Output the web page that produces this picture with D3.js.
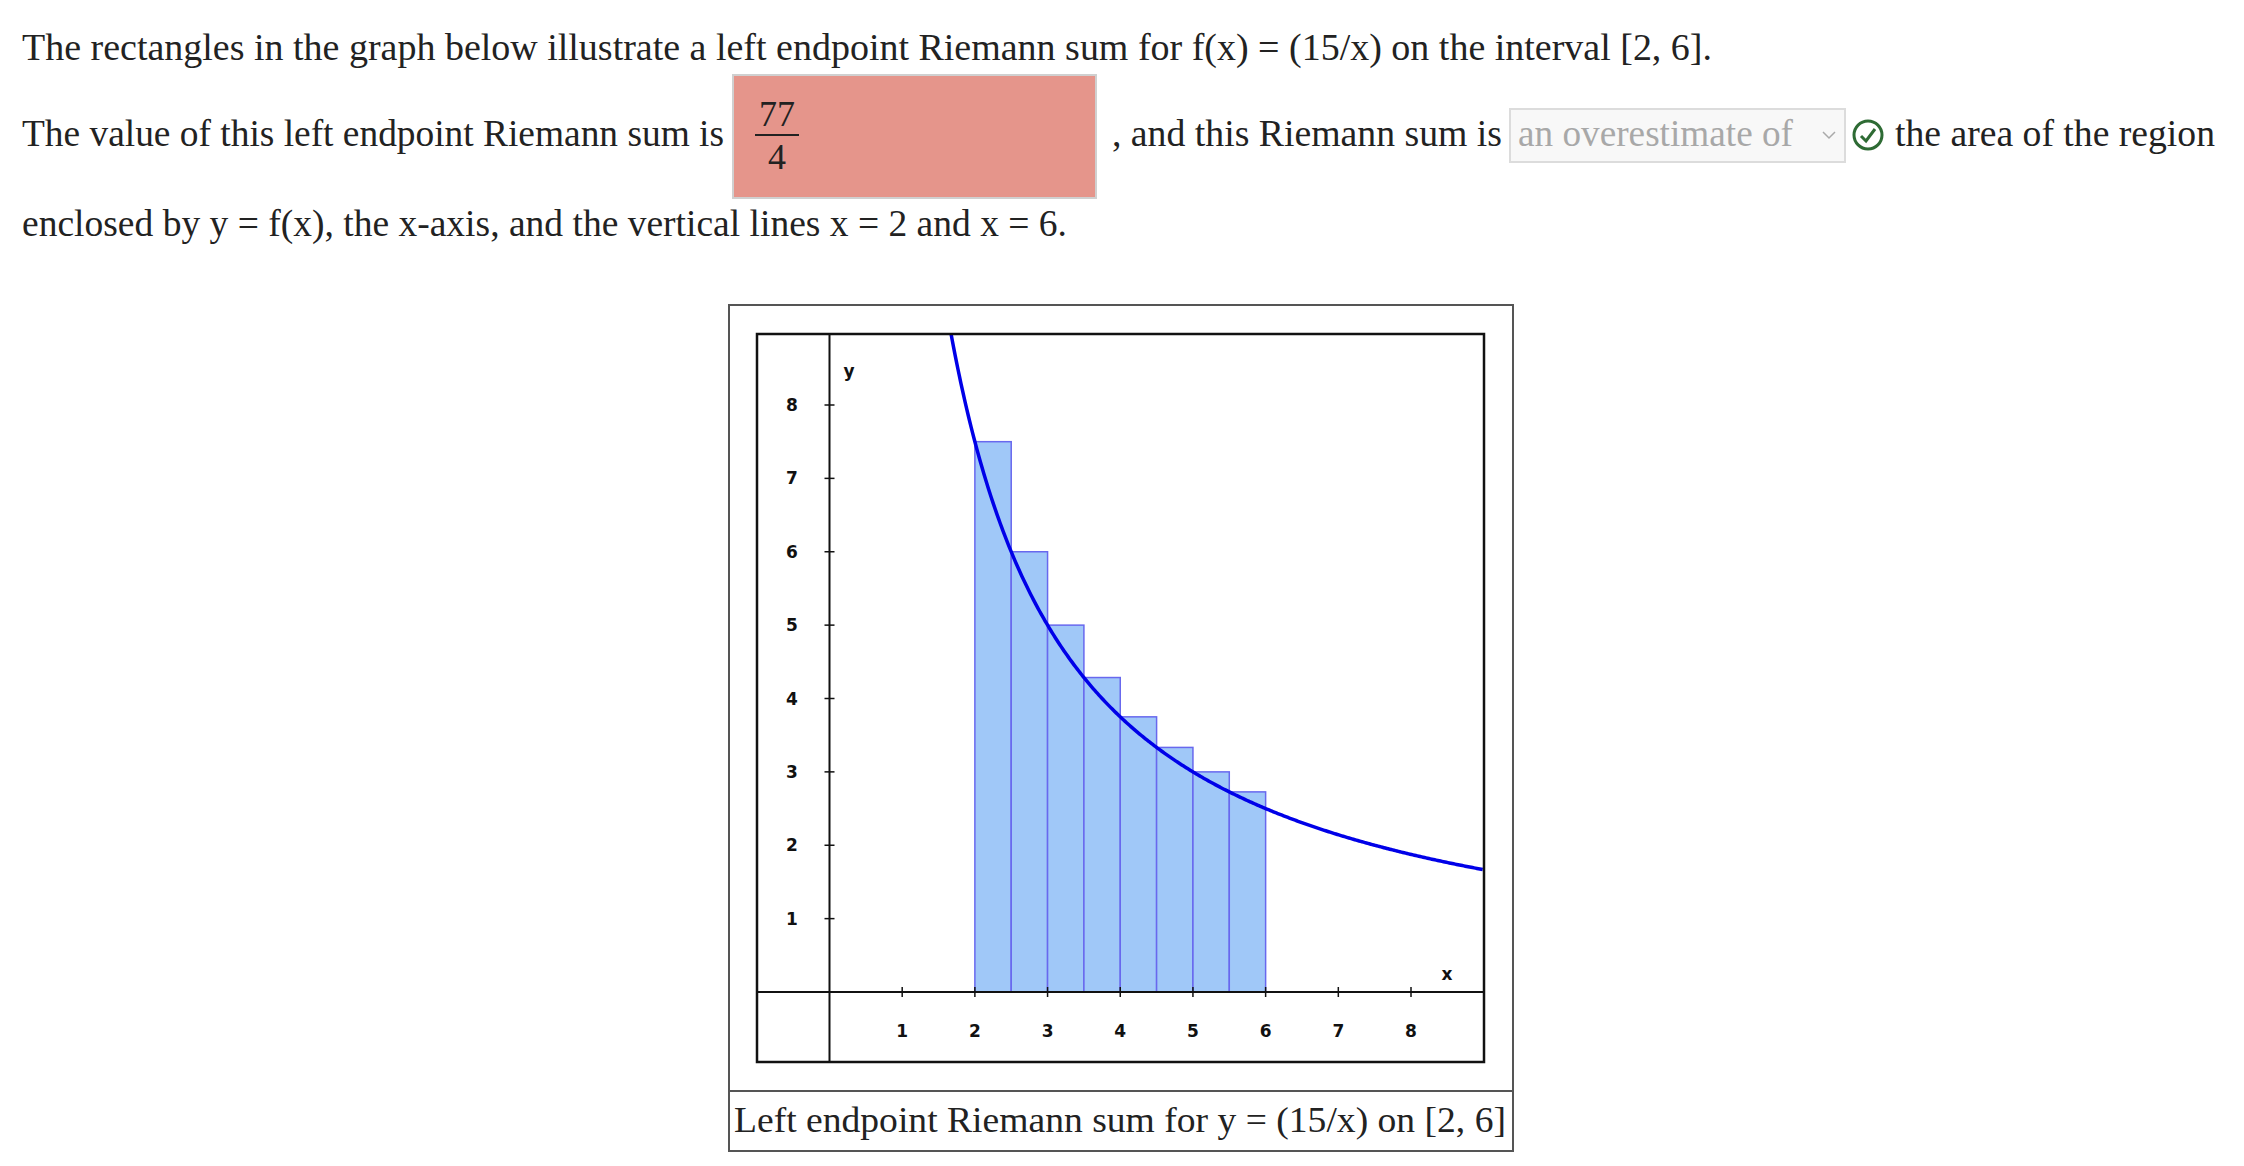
<!DOCTYPE html>
<html><head><meta charset="utf-8">
<script src="https://cdn.jsdelivr.net/npm/d3@7"></script>
<style>body{margin:0;background:#fff}</style>
</head><body>
<svg width="2244" height="1166"></svg>
<script>
const svg = d3.select('svg');

// data
const a = 2, b = 6, n = 8;
const leftEnds = [2, 2.5, 3, 3.5, 4, 4.5, 5, 5.5];
const heights = [7.5, 6, 5, 4.2857, 3.75, 3.3333, 3, 2.7273];
const xTicks = [1, 2, 3, 4, 5, 6, 7, 8];
const yTicks = [1, 2, 3, 4, 5, 6, 7, 8];
const f = x => 15 / x;
const curveXs = d3.range(15 / 9, 9.001, 0.02);

const serif = '"Liberation Serif", "DejaVu Serif", serif';

// question text
function txt(x, y, s, len, opts = {}) {
  return svg.append('text').attr('x', x).attr('y', y)
    .attr('font-family', serif).attr('font-size', opts.size || 37)
    .attr('fill', opts.fill || '#222')
    .attr('textLength', len).attr('lengthAdjust', 'spacingAndGlyphs')
    .text(s);
}
txt(22, 60, 'The rectangles in the graph below illustrate a left endpoint Riemann sum for f(x) = (15/x) on the interval [2, 6].', 1690);
txt(22, 146, 'The value of this left endpoint Riemann sum is', 702);

svg.append('rect').attr('x', 733).attr('y', 75).attr('width', 363).attr('height', 123)
  .attr('fill', '#e5958b').attr('stroke', '#d0d0d0').attr('stroke-width', 2);
svg.append('text').attr('x', 777).attr('y', 126).attr('text-anchor', 'middle')
  .attr('font-family', serif).attr('font-size', 36).attr('fill', '#222').text('77');
svg.append('line').attr('x1', 755).attr('x2', 799).attr('y1', 135).attr('y2', 135)
  .attr('stroke', '#222').attr('stroke-width', 2);
svg.append('text').attr('x', 777).attr('y', 169).attr('text-anchor', 'middle')
  .attr('font-family', serif).attr('font-size', 36).attr('fill', '#222').text('4');

txt(1112, 146, ', and this Riemann sum is', 390);
svg.append('rect').attr('x', 1510).attr('y', 109).attr('width', 335).attr('height', 53)
  .attr('fill', '#f8f8f8').attr('stroke', '#dcdcdc').attr('stroke-width', 2);
txt(1518, 146, 'an overestimate of', 275, {fill: '#a8a8a8'});
svg.append('path').attr('d', 'M1823,132 L1829,138 L1835,132').attr('fill', 'none')
  .attr('stroke', '#aaa').attr('stroke-width', 1.5);
svg.append('circle').attr('cx', 1868).attr('cy', 135).attr('r', 14)
  .attr('fill', 'none').attr('stroke', '#2e6b34').attr('stroke-width', 3);
svg.append('path').attr('d', 'M1861,136 L1866,141 L1875,129').attr('fill', 'none')
  .attr('stroke', '#2e6b34').attr('stroke-width', 3);
txt(1895, 146, 'the area of the region', 320);
txt(22, 236, 'enclosed by y = f(x), the x-axis, and the vertical lines x = 2 and x = 6.', 1045);

// chart frame
svg.append('rect').attr('x', 729).attr('y', 305).attr('width', 784).attr('height', 846)
  .attr('fill', 'none').attr('stroke', '#555').attr('stroke-width', 2);
svg.append('line').attr('x1', 729).attr('x2', 1513).attr('y1', 1091).attr('y2', 1091)
  .attr('stroke', '#555').attr('stroke-width', 2);
svg.append('text').attr('x', 734).attr('y', 1132)
  .attr('font-family', serif).attr('font-size', 36).attr('fill', '#222')
  .attr('textLength', 772).attr('lengthAdjust', 'spacingAndGlyphs')
  .text('Left endpoint Riemann sum for y = (15/x) on [2, 6]');

const L = 757, R = 1484, T = 334, B = 1062;
const x = d3.scaleLinear().domain([0, 8]).range([829.5, 1411]);
const y = d3.scaleLinear().domain([0, 8]).range([992, 405]);

svg.append('clipPath').attr('id', 'plot').append('rect')
  .attr('x', L).attr('y', T).attr('width', R - L).attr('height', B - T);
const g = svg.append('g').attr('clip-path', 'url(#plot)');

g.selectAll('rect.bar').data(leftEnds).enter().append('rect').attr('class', 'bar')
  .attr('x', d => x(d)).attr('width', x((b - a) / n) - x(0))
  .attr('y', (d, i) => y(heights[i])).attr('height', (d, i) => y(0) - y(heights[i]))
  .attr('fill', '#a0c8f8').attr('stroke', '#6868ee').attr('stroke-width', 1.5);

// axes
g.append('line').attr('x1', L).attr('x2', R).attr('y1', y(0)).attr('y2', y(0)).attr('stroke', '#111').attr('stroke-width', 2);
g.append('line').attr('x1', x(0)).attr('x2', x(0)).attr('y1', T).attr('y2', B).attr('stroke', '#111').attr('stroke-width', 2);
g.selectAll('line.xt').data(xTicks).enter().append('line')
  .attr('x1', d => x(d)).attr('x2', d => x(d)).attr('y1', y(0) - 5).attr('y2', y(0) + 5)
  .attr('stroke', '#111').attr('stroke-width', 1.5);
g.selectAll('line.yt').data(yTicks).enter().append('line')
  .attr('y1', d => y(d)).attr('y2', d => y(d)).attr('x1', x(0) - 5).attr('x2', x(0) + 5)
  .attr('stroke', '#111').attr('stroke-width', 1.5);

const lab = {'font-family': 'Verdana, "DejaVu Sans", sans-serif', 'font-size': 17, 'font-weight': 'bold', fill: '#111', 'text-anchor': 'middle'};
function applyLab(sel) { Object.entries(lab).forEach(([k, v]) => sel.attr(k, v)); return sel; }
applyLab(g.selectAll('text.xl').data(xTicks).enter().append('text')
  .attr('x', d => x(d)).attr('y', 1037).text(d => d));
applyLab(g.selectAll('text.yl').data(yTicks).enter().append('text')
  .attr('x', 792).attr('y', d => y(d) + 6).text(d => d));
applyLab(g.append('text').attr('x', 849).attr('y', 377).text('y'));
applyLab(g.append('text').attr('x', 1447).attr('y', 980).text('x'));

g.append('path').datum(curveXs)
  .attr('d', d3.line().x(d => x(d)).y(d => y(f(d))))
  .attr('fill', 'none').attr('stroke', '#0000e8').attr('stroke-width', 3.5);

svg.append('rect').attr('x', L).attr('y', T).attr('width', R - L).attr('height', B - T)
  .attr('fill', 'none').attr('stroke', '#111').attr('stroke-width', 2.5);
</script>
</body></html>
